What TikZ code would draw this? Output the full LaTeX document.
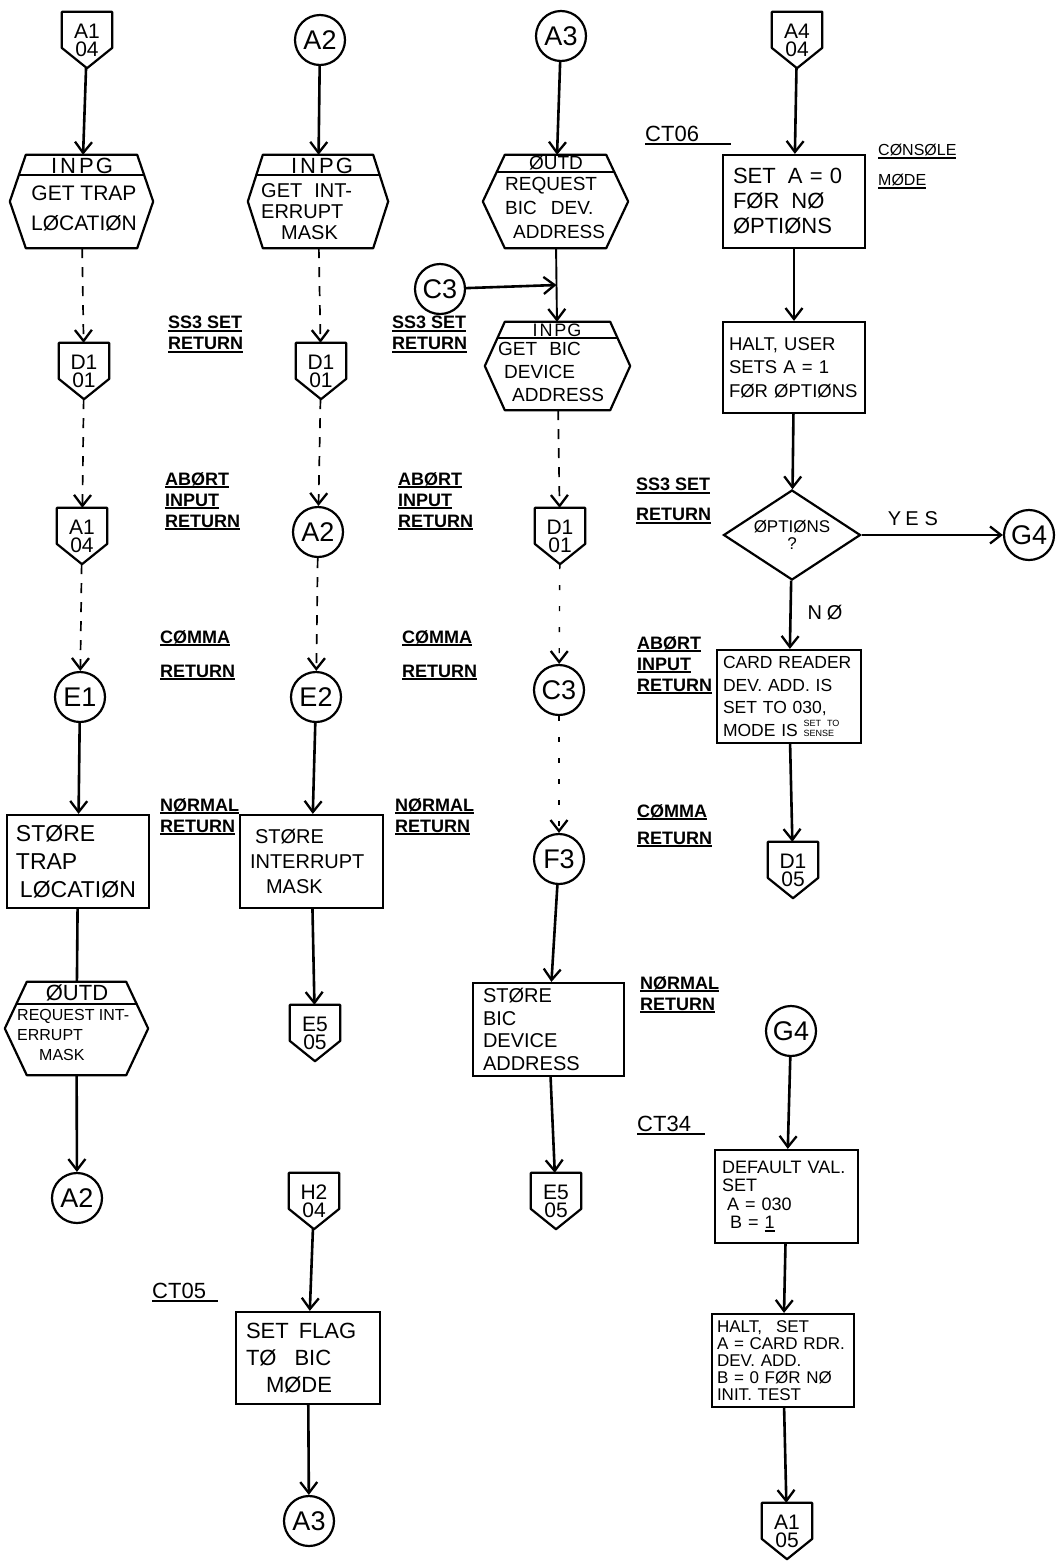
\documentclass[tikz,border=0pt]{standalone}
\usepackage{fontspec}
\setmainfont{Liberation Sans}
\usetikzlibrary{arrows.meta,calc,shapes.geometric}
\newcommand\fsz[2]{\fontsize{#1}{#2}\selectfont}
\newcommand\ulb[1]{\setbox0=\hbox{#1}\rlap{\rule[-3pt]{\wd0}{1.8pt}}\box0}
\newcommand\hexdraw[4]{%
  \draw[shp] ($(#1.north west)+(#2,0)$) -- ($(#1.north east)+(-#2,0)$) -- (#1.east) -- ($(#1.south east)+(-#2,0)$) -- ($(#1.south west)+(#2,0)$) -- (#1.west) -- cycle;
  \draw[shp] ($(#1.north west)+(#4,#3)$) -- ($(#1.north east)+(-#4,#3)$);
}
\newcommand\offpg[4]{%
  \node[offp] (#1) at (#2,#3) {#4};
  \draw[shp] (#1.north west) -- (#1.north east) -- ($(#1.north east)!0.64!(#1.south east)$) -- (#1.south) -- ($(#1.north west)!0.64!(#1.south west)$) -- cycle;
}
\begin{document}
\begin{tikzpicture}[x=1pt,y=-1pt,
  shp/.style={line width=2.2pt, line join=round},
  arr/.style={line width=2.6pt, -{Straight Barb[length=11pt,width=17pt,line width=2.3pt]}},
  dsh/.style={arr, line width=1.7pt, dash pattern=on 10pt off 9pt},
  dsp/.style={arr, line width=1.4pt, dash pattern=on 5pt off 16pt},
  solidline/.style={line width=2.6pt},
  procbox/.style={draw, line width=2.2pt, inner ysep=0pt, align=left},
  hexbase/.style={inner sep=0pt},
  conn/.style={draw, circle, line width=2.2pt, minimum size=50pt, inner sep=0pt, font=\fsz{27}{27}},
  offp/.style={inner sep=0pt, minimum width=50pt, minimum height=56pt, align=center, font=\fsz{21}{18}},
  retl/.style={anchor=north west, inner sep=0pt, align=left, font=\bfseries\fsz{18}{21}},
  txt/.style={inner sep=0pt, align=left},
]
\fill[white] (0,0) rectangle (1061,1564);
\useasboundingbox (0,0) rectangle (1061,1564);

% ---------- column 1 ----------
\offpg{c1a}{87}{40}{A1\\04}
\node[hexbase, minimum width=143pt, minimum height=93pt] (h1) at (81.5,201.5) {};
\hexdraw{h1}{16}{20}{9.1}
\node[txt, font=\fsz{22}{22}] (h1band) at (82,166) {I\hspace{3pt}N\hspace{3pt}P\hspace{2pt}G};
\node[txt, align=center, font=\fsz{21}{30}] (h1body) at (84,208) {GET TRAP\\LØCATIØN};
\offpg{c1b}{84}{371}{D1\\01}
\offpg{c1c}{82}{536}{A1\\04}
\node[conn] (e1) at (80,697) {E1};
\node[procbox, minimum width=142pt, minimum height=93pt, text width=124pt, inner xsep=9pt, font=\fsz{23}{28}] (b1) at (78,861.5) {STØRE\\TRAP\\\hspace*{4pt}LØCATIØN};
\node[hexbase, minimum width=143pt, minimum height=93pt] (h5) at (76.5,1028.5) {};
\hexdraw{h5}{22}{22}{11.6}
\node[txt, font=\fsz{22}{22}] (h5band) at (77,993) {ØUTD};
\node[txt, anchor=north west, font=\fsz{16}{20}] (h5body) at (17,1009) {REQUEST INT-\\ERRUPT\\\hspace*{22pt}MASK};
\node[conn] (a2b) at (77,1198) {A2};

\draw[arr] (c1a) -- (h1);
\draw[dsh] (h1) -- (c1b);
\draw[dsh] (c1b) -- (c1c);
\draw[dsh] (c1c) -- (e1);
\draw[arr] (e1) -- (b1);
\draw[solidline] (b1) -- (h5);
\draw[arr] (h5) -- (a2b);

% ---------- column 2 ----------
\node[conn] (a2a) at (320,40) {A2};
\node[hexbase, minimum width=140pt, minimum height=93pt] (h2) at (318,201.5) {};
\hexdraw{h2}{15}{20}{8.5}
\node[txt, font=\fsz{22}{22}] (h2band) at (322,166) {I\hspace{3pt}N\hspace{3pt}P\hspace{2pt}G};
\node[txt, anchor=north west, font=\fsz{20}{21}] (h2body) at (261,183) {GET\hspace{12pt}INT-\\ERRUPT\\\hspace*{20pt}MASK};
\offpg{c2b}{321}{371}{D1\\01}
\node[conn] (a2c) at (318,532) {A2};
\node[conn] (e2) at (316,697) {E2};
\node[procbox, minimum width=143pt, minimum height=93pt, text width=123pt, inner xsep=10pt, font=\fsz{20}{25}] (b2) at (311.5,861.5) {\hspace*{5pt}STØRE\\INTERRUPT\\\hspace*{16pt}MASK};
\offpg{c2e}{315}{1033}{E5\\05}
\offpg{c2h}{314}{1201}{H2\\04}
\node[procbox, minimum width=144pt, minimum height=92pt, text width=124pt, inner xsep=10pt, font=\fsz{22}{27}] (b6) at (308,1358) {SET\hspace{10pt}FLAG\\TØ\hspace{18pt}BIC\\\hspace*{20pt}MØDE};
\node[conn] (a3b) at (309,1521) {A3};

\draw[arr] (a2a) -- (h2);
\draw[dsh] (h2) -- (c2b);
\draw[dsh] (c2b) -- (a2c);
\draw[dsh] (a2c) -- (e2);
\draw[arr] (e2) -- (b2);
\draw[arr] (b2) -- (c2e);
\draw[arr] (c2h) -- (b6);
\draw[arr] (b6) -- (a3b);

% ---------- column 3 ----------
\node[conn] (a3a) at (561,36) {A3};
\node[hexbase, minimum width=145pt, minimum height=93pt] (h3) at (555.5,201.5) {};
\hexdraw{h3}{22}{17}{14}
\node[txt, font=\fsz{19}{19}] (h3band) at (556,163) {ØUTD};
\node[txt, anchor=north west, font=\fsz{19}{24}] (h3body) at (505,177) {REQUEST\\BIC\hspace{14pt}DEV.\\\hspace*{8pt}ADDRESS};
\node[conn] (c3a) at (440,289) {C3};
\node[hexbase, minimum width=145pt, minimum height=88pt] (h4) at (557.5,366) {};
\hexdraw{h4}{20}{16}{12.7}
\node[txt, font=\fsz{18}{18}] (h4band) at (557,330) {I\hspace{2pt}N\hspace{2pt}P\hspace{1pt}G};
\node[txt, anchor=north west, font=\fsz{19}{23}] (h4body) at (498,342) {GET\hspace{12pt}BIC\\\hspace*{6pt}DEVICE\\\hspace*{14pt}ADDRESS};
\offpg{c3d}{560}{536}{D1\\01}
\node[conn] (c3c) at (559,690) {C3};
\node[conn] (f3) at (559,859) {F3};
\node[procbox, minimum width=151pt, minimum height=93pt, text width=131pt, inner xsep=10pt, font=\fsz{20}{22.5}] (b3) at (548.5,1029.5) {STØRE\\BIC\\DEVICE\\ADDRESS};
\offpg{c3e}{556}{1201}{E5\\05}

\draw[arr] (a3a) -- (h3);
\draw[arr, line width=1.9pt] (h3) -- (h4);
\coordinate (j) at ($(h3.south)!0.5!(h4.north)$);
\draw[arr] (c3a) -- (j);
\draw[dsh] (h4) -- (c3d);
\draw[dsp] (c3d) -- (c3c);
\draw[dsp] (c3c) -- (f3);
\draw[arr] (f3) -- (b3);
\draw[arr] (b3) -- (c3e);

% ---------- column 4 ----------
\offpg{c4a}{797}{40}{A4\\04}
\node[procbox, minimum width=142pt, minimum height=93pt, text width=122pt, inner xsep=10pt, font=\fsz{22}{25}] (b4) at (794,201.5) {SET\hspace{12pt}A = 0\\FØR\hspace{12pt}NØ\\ØPTIØNS};
\node[procbox, minimum width=142pt, minimum height=91pt, text width=130pt, inner xsep=6pt, font=\fsz{18.5}{23.5}] (b5) at (794,367.5) {HALT, USER\\SETS A = 1\\FØR ØPTIØNS};
\node[draw, diamond, line width=2.2pt, minimum width=137pt, minimum height=90pt, inner sep=0pt, aspect=1.5, align=center, font=\fsz{17}{17}] (d1) at (792,535) {ØPTIØNS\\?};
\node[conn] (g4a) at (1029,535) {G4};
\node[txt, font=\fsz{20}{20}] (yes) at (913,519) {Y\hspace{4pt}E\hspace{6pt}S};
\node[txt, font=\fsz{20}{20}] (no) at (825,613) {N\hspace{5pt}Ø};
\node[procbox, minimum width=144pt, minimum height=93pt, text width=132pt, inner xsep=6pt, font=\fsz{17.5}{22.5}] (b7) at (789,696.5) {CARD READER\\DEV. ADD. IS\\SET TO 030,\\MODE IS {\fsz{9}{9}\shortstack[l]{SET TO\\SENSE}}};
\offpg{c4d}{793}{870}{D1\\05}
\node[conn] (g4b) at (791,1031) {G4};
\node[procbox, minimum width=143pt, minimum height=93pt, text width=129pt, inner xsep=7pt, font=\fsz{18}{18.5}] (b8) at (786.5,1196.5) {DEFAULT VAL.\\SET\\\hspace*{5pt}A = 030\\\hspace*{8pt}B = \ulb{1}};
\node[procbox, minimum width=142pt, minimum height=93pt, text width=132pt, inner xsep=5pt, font=\fsz{17}{17}] (b9) at (783,1360.5) {HALT,\hspace{14pt}SET\\A = CARD RDR.\\DEV. ADD.\\B = 0 FØR NØ\\INIT. TEST};
\offpg{c4e}{787}{1531}{A1\\05}

\draw[arr] (c4a) -- (b4);
\draw[arr] (b4) -- (b5);
\draw[arr] (b5) -- (d1);
\draw[arr] (d1) -- (g4a);
\draw[arr] (d1) -- (b7);
\draw[arr] (b7) -- (c4d);
\draw[arr] (g4b) -- (b8);
\draw[arr] (b8) -- (b9);
\draw[arr] (b9) -- (c4e);

% ---------- side labels ----------
\node[retl] (l1) at (168,316) {\ulb{SS3 SET}\\\ulb{RETURN}};
\node[retl] (l2) at (165,472) {\ulb{ABØRT}\\\ulb{INPUT}\\\ulb{RETURN}};
\node[retl] (l3) at (160,630) {\ulb{CØMMA}\\[13pt]\ulb{RETURN}};
\node[retl] (l4) at (160,798) {\ulb{NØRMAL}\\\ulb{RETURN}};
\node[retl] (l5) at (392,316) {\ulb{SS3 SET}\\\ulb{RETURN}};
\node[retl] (l6) at (398,472) {\ulb{ABØRT}\\\ulb{INPUT}\\\ulb{RETURN}};
\node[retl] (l7) at (402,630) {\ulb{CØMMA}\\[13pt]\ulb{RETURN}};
\node[retl] (l8) at (395,798) {\ulb{NØRMAL}\\\ulb{RETURN}};
\node[retl] (l9) at (636,478) {\ulb{SS3 SET}\\[9pt]\ulb{RETURN}};
\node[retl] (l10) at (637,636) {\ulb{ABØRT}\\\ulb{INPUT}\\\ulb{RETURN}};
\node[retl] (l11) at (637,804) {\ulb{CØMMA}\\[6pt]\ulb{RETURN}};
\node[retl] (l12) at (640,976) {\ulb{NØRMAL}\\\ulb{RETURN}};
\node[retl, font=\fsz{16}{30}] (cons) at (878,144) {\ulb{CØNSØLE}\\\ulb{MØDE}};
\node[retl, font=\fsz{22}{22}] (ct06) at (645,126) {\ulb{CT06\hspace{32pt}}};
\node[retl, font=\fsz{22}{22}] (ct34) at (637,1116) {\ulb{CT34\hspace{14pt}}};
\node[retl, font=\fsz{22}{22}] (ct05) at (152,1283) {\ulb{CT05\hspace{12pt}}};
\end{tikzpicture}
\end{document}
